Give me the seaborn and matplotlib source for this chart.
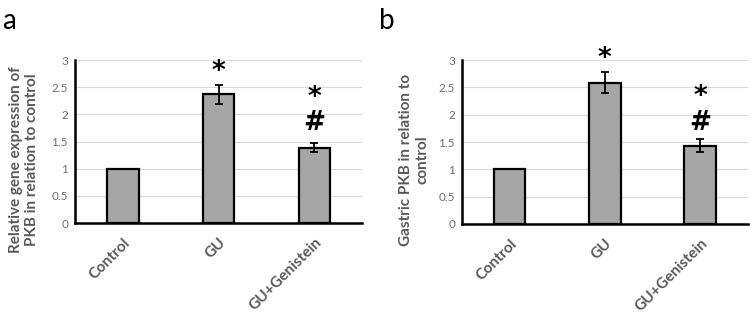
import numpy as np
import pandas as pd
import matplotlib
matplotlib.use("Agg")
import matplotlib.pyplot as plt
import seaborn as sns

# valores
groups = ["Control", "GU", "GU+Genistein"]
pkb_gene = [1.0, 2.37, 1.39]
pkb_gene_err = [0.0, 0.17, 0.08]
pkb_gastric = [1.0, 2.59, 1.43]
pkb_gastric_err = [0.0, 0.20, 0.12]
yticks = [0, 0.5, 1, 1.5, 2, 2.5, 3]
ytick_labels = ["0", "0.5", "1", "1.5", "2", "2.5", "3"]

sns.set_theme(style="white")
plt.rcParams["font.family"] = ["Lato", "DejaVu Sans"]

fig = plt.figure(figsize=(7.5, 3.2), dpi=100)
ax_a = fig.add_axes([0.100, 0.303, 0.383, 0.509])
ax_b = fig.add_axes([0.616, 0.300, 0.381, 0.512])

gray_txt = "#595959"


def draw_panel(ax, vals, errs, ylabel, marks, label_x):
    df = pd.DataFrame({"grupo": groups, "valor": vals})
    sns.barplot(data=df, x="grupo", y="valor", ax=ax, color="#a6a6a6",
                saturation=1, width=0.33, edgecolor="black", linewidth=1.6,
                errorbar=None, zorder=3)
    ax.errorbar(np.arange(len(groups))[1:], vals[1:], yerr=errs[1:], fmt="none",
                ecolor="black", elinewidth=1.3, capsize=3, capthick=1.3, zorder=4)
    ax.set_ylim(0, 3)
    ax.set_xlim(-0.5, 2.5)
    ax.set_yticks(yticks)
    ax.set_yticklabels(ytick_labels, color="#6e6e6e", fontsize=8.5)
    ax.yaxis.grid(True, color="#d9d9d9", linewidth=0.8, zorder=0)
    ax.set_axisbelow(True)
    ax.tick_params(axis="y", length=0, pad=5)
    ax.tick_params(axis="x", length=0, pad=9)
    ax.set_xlabel("")
    ax.set_xticks(range(len(groups)))
    ax.set_xticklabels(groups, rotation=45, ha="right", rotation_mode="anchor",
                       fontsize=11, fontweight="bold", color=gray_txt)
    ax.set_ylabel(ylabel, fontsize=11, fontweight="bold", color=gray_txt,
                  linespacing=1.15)
    ax.yaxis.set_label_coords(label_x, 0.39)
    for s in ["top", "right"]:
        ax.spines[s].set_visible(False)
    ax.spines["left"].set_color("black")
    ax.spines["left"].set_linewidth(1.8)
    ax.spines["bottom"].set_color("black")
    ax.spines["bottom"].set_linewidth(1.8)
    for x, y, t in marks:
        ax.text(x, y, t, ha="center", va="center", fontsize=19,
                fontweight="bold", color="black", family="DejaVu Sans",
                clip_on=False)


draw_panel(ax_a, pkb_gene, pkb_gene_err,
           "Relative gene expression of\nPKB in relation to control",
           [(1, 2.78, "*"), (2, 2.30, "*"), (2, 1.84, "#")], -0.125)
draw_panel(ax_b, pkb_gastric, pkb_gastric_err,
           "Gastric PKB in relation to\ncontrol",
           [(1, 3.02, "*"), (2, 2.32, "*"), (2, 1.85, "#")], -0.115)

fig.text(0.003, 0.975, "a", fontsize=20, va="top", ha="left", color="black")
fig.text(0.505, 0.975, "b", fontsize=20, va="top", ha="left", color="black")

fig.savefig("out.png", dpi=100)
